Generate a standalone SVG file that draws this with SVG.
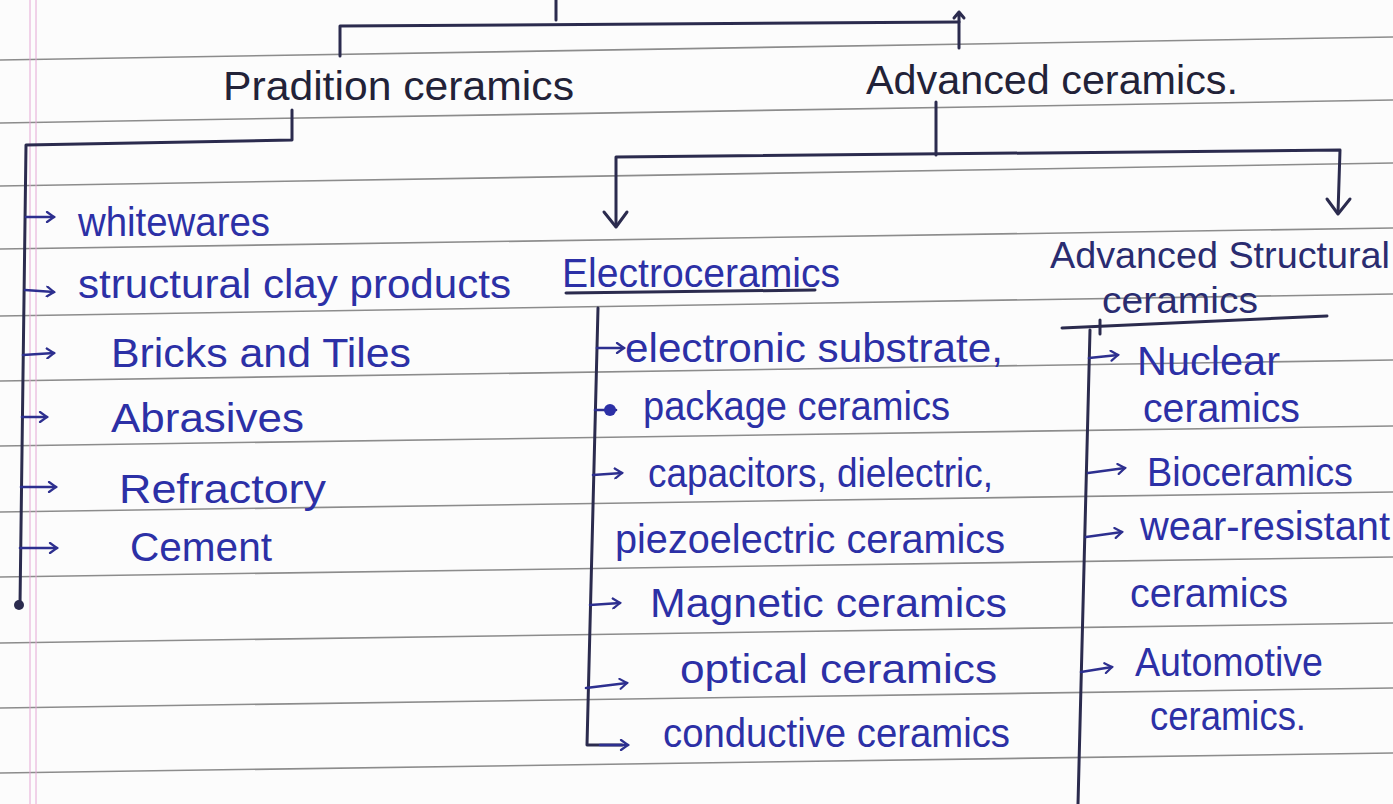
<svg xmlns="http://www.w3.org/2000/svg" width="1393" height="804" viewBox="0 0 1393 804">
<defs>
<style>
.rule{stroke:#8c8c8c;stroke-width:1.6;fill:none}
.margin{stroke:#e6a6d6;stroke-width:1.4;fill:none;opacity:.7}
.con{stroke:#2b2b4e;stroke-width:3;fill:none;stroke-linecap:round;stroke-linejoin:round}
.arw{stroke:#2d2f8f;stroke-width:2.6;fill:none;stroke-linecap:round;stroke-linejoin:round}
.head{font-family:"Liberation Sans","DejaVu Sans",sans-serif;font-size:40px;fill:#222238}
.sub{font-family:"Liberation Sans","DejaVu Sans",sans-serif;font-size:36px;fill:#2a2c70}
.item{font-family:"Liberation Sans","DejaVu Sans",sans-serif;font-size:40px;fill:#2c30a6}
</style>
<marker id="ah" viewBox="0 0 12 12" refX="10" refY="6" markerWidth="12" markerHeight="12" markerUnits="userSpaceOnUse" orient="auto">
<path d="M3,1 L10,6 L3,11" fill="none" stroke="#2d2f8f" stroke-width="2.2" stroke-linecap="round"/>
</marker>
</defs>
<rect width="1393" height="804" fill="#fcfcfc"/>
<g id="paper">
<line class="rule" x1="0" y1="60" x2="1393" y2="37"/>
<line class="rule" x1="0" y1="123" x2="1393" y2="100"/>
<line class="rule" x1="0" y1="186" x2="1393" y2="163"/>
<line class="rule" x1="0" y1="249" x2="1393" y2="228"/>
<line class="rule" x1="0" y1="316" x2="1393" y2="294"/>
<line class="rule" x1="0" y1="381" x2="1393" y2="360"/>
<line class="rule" x1="0" y1="446" x2="1393" y2="426"/>
<line class="rule" x1="0" y1="512" x2="1393" y2="492"/>
<line class="rule" x1="0" y1="577" x2="1393" y2="557"/>
<line class="rule" x1="0" y1="643" x2="1393" y2="623"/>
<line class="rule" x1="0" y1="708" x2="1393" y2="688"/>
<line class="rule" x1="0" y1="773" x2="1393" y2="753"/>
<line class="margin" x1="30" y1="0" x2="30" y2="804"/>
<line class="margin" x1="36" y1="0" x2="36" y2="804"/>
</g>
<g id="connectors">
<path class="con" d="M556,0 L556,20"/>
<path class="con" d="M340,56 L340,26 L959,22"/>
<path class="con" d="M959,12 L959,48 M954,18 L959,12 L964,18"/>
<path class="con" d="M292,110 L292,140 L26,145 L20,605"/>
<circle cx="19" cy="605" r="5" fill="#2b2b4e"/>
<path class="con" d="M936,102 L936,155"/>
<path class="con" d="M616,226 L616,157 L1340,150 L1338,213"/>
<path class="con" d="M604,212 L616,227 L627,212"/>
<path class="con" d="M1327,199 L1338,214 L1350,199"/>
<path class="con" d="M566,293 L815,290"/>
<path class="con" d="M598,308 L587,745 L622,745"/>
<path class="con" d="M1062,328 L1327,316"/>
<path class="con" d="M1100,320 L1100,334"/>
<path class="con" d="M1090,330 L1078,804"/>
<path class="arw" marker-end="url(#ah)" d="M26,217 L54,217"/>
<path class="arw" marker-end="url(#ah)" d="M25,290 L54,292"/>
<path class="arw" marker-end="url(#ah)" d="M23,355 L54,353"/>
<path class="arw" marker-end="url(#ah)" d="M22,417 L47,417"/>
<path class="arw" marker-end="url(#ah)" d="M21,487 L56,487"/>
<path class="arw" marker-end="url(#ah)" d="M20,548 L57,548"/>
<path class="arw" marker-end="url(#ah)" d="M597,348 L624,348"/>
<path class="arw" d="M595,410 L616,410"/>
<circle cx="610" cy="410" r="6" fill="#2c30a6"/>
<path class="arw" marker-end="url(#ah)" d="M593,475 L622,473"/>
<path class="arw" marker-end="url(#ah)" d="M590,605 L620,603"/>
<path class="arw" marker-end="url(#ah)" d="M586,688 L627,683"/>
<path class="arw" marker-end="url(#ah)" d="M600,745 L628,745"/>
<path class="arw" marker-end="url(#ah)" d="M1089,358 L1118,355"/>
<path class="arw" marker-end="url(#ah)" d="M1088,473 L1125,468"/>
<path class="arw" marker-end="url(#ah)" d="M1086,537 L1122,532"/>
<path class="arw" marker-end="url(#ah)" d="M1081,672 L1112,667"/>
</g>
<g id="traditional"><text class="head" x="223" y="100" textLength="351" lengthAdjust="spacingAndGlyphs">Pradition ceramics</text></g>
<g id="advanced"><text class="head" x="866" y="94" textLength="372" lengthAdjust="spacingAndGlyphs">Advanced ceramics.</text></g>
<g id="whitewares"><text class="item" x="78" y="236" textLength="192" lengthAdjust="spacingAndGlyphs">whitewares</text></g>
<g id="structural-clay"><text class="item" x="78" y="298" textLength="433" lengthAdjust="spacingAndGlyphs">structural clay products</text></g>
<g id="bricks"><text class="item" x="111" y="367" textLength="300" lengthAdjust="spacingAndGlyphs">Bricks and Tiles</text></g>
<g id="abrasives"><text class="item" x="111" y="432" textLength="193" lengthAdjust="spacingAndGlyphs">Abrasives</text></g>
<g id="refractory"><text class="item" x="119" y="503" textLength="207" lengthAdjust="spacingAndGlyphs">Refractory</text></g>
<g id="cement"><text class="item" x="130" y="561" textLength="142" lengthAdjust="spacingAndGlyphs">Cement</text></g>
<g id="electroceramics"><text class="item" x="562" y="287" textLength="278" lengthAdjust="spacingAndGlyphs">Electroceramics</text></g>
<g id="e-substrate"><text class="item" x="625" y="362" textLength="378" lengthAdjust="spacingAndGlyphs">electronic substrate,</text></g>
<g id="e-package"><text class="item" x="643" y="420" textLength="307" lengthAdjust="spacingAndGlyphs">package ceramics</text></g>
<g id="e-capacitors"><text class="item" x="648" y="487" textLength="345" lengthAdjust="spacingAndGlyphs">capacitors, dielectric,</text>
<text class="item" x="615" y="553" textLength="390" lengthAdjust="spacingAndGlyphs">piezoelectric ceramics</text></g>
<g id="e-magnetic"><text class="item" x="650" y="617" textLength="357" lengthAdjust="spacingAndGlyphs">Magnetic ceramics</text></g>
<g id="e-optical"><text class="item" x="680" y="683" textLength="317" lengthAdjust="spacingAndGlyphs">optical ceramics</text></g>
<g id="e-conductive"><text class="item" x="663" y="747" textLength="347" lengthAdjust="spacingAndGlyphs">conductive ceramics</text></g>
<g id="adv-structural"><text class="sub" x="1050" y="268" textLength="340" lengthAdjust="spacingAndGlyphs">Advanced Structural</text>
<text class="sub" x="1102" y="313" textLength="156" lengthAdjust="spacingAndGlyphs">ceramics</text></g>
<g id="s-nuclear"><text class="item" x="1137" y="375" textLength="143" lengthAdjust="spacingAndGlyphs">Nuclear</text>
<text class="item" x="1143" y="422" textLength="157" lengthAdjust="spacingAndGlyphs">ceramics</text></g>
<g id="s-bio"><text class="item" x="1147" y="486" textLength="206" lengthAdjust="spacingAndGlyphs">Bioceramics</text></g>
<g id="s-wear"><text class="item" x="1140" y="540" textLength="250" lengthAdjust="spacingAndGlyphs">wear-resistant</text>
<text class="item" x="1130" y="607" textLength="158" lengthAdjust="spacingAndGlyphs">ceramics</text></g>
<g id="s-automotive"><text class="item" x="1135" y="676" textLength="188" lengthAdjust="spacingAndGlyphs">Automotive</text>
<text class="item" x="1150" y="730" textLength="156" lengthAdjust="spacingAndGlyphs">ceramics.</text></g>
</svg>
